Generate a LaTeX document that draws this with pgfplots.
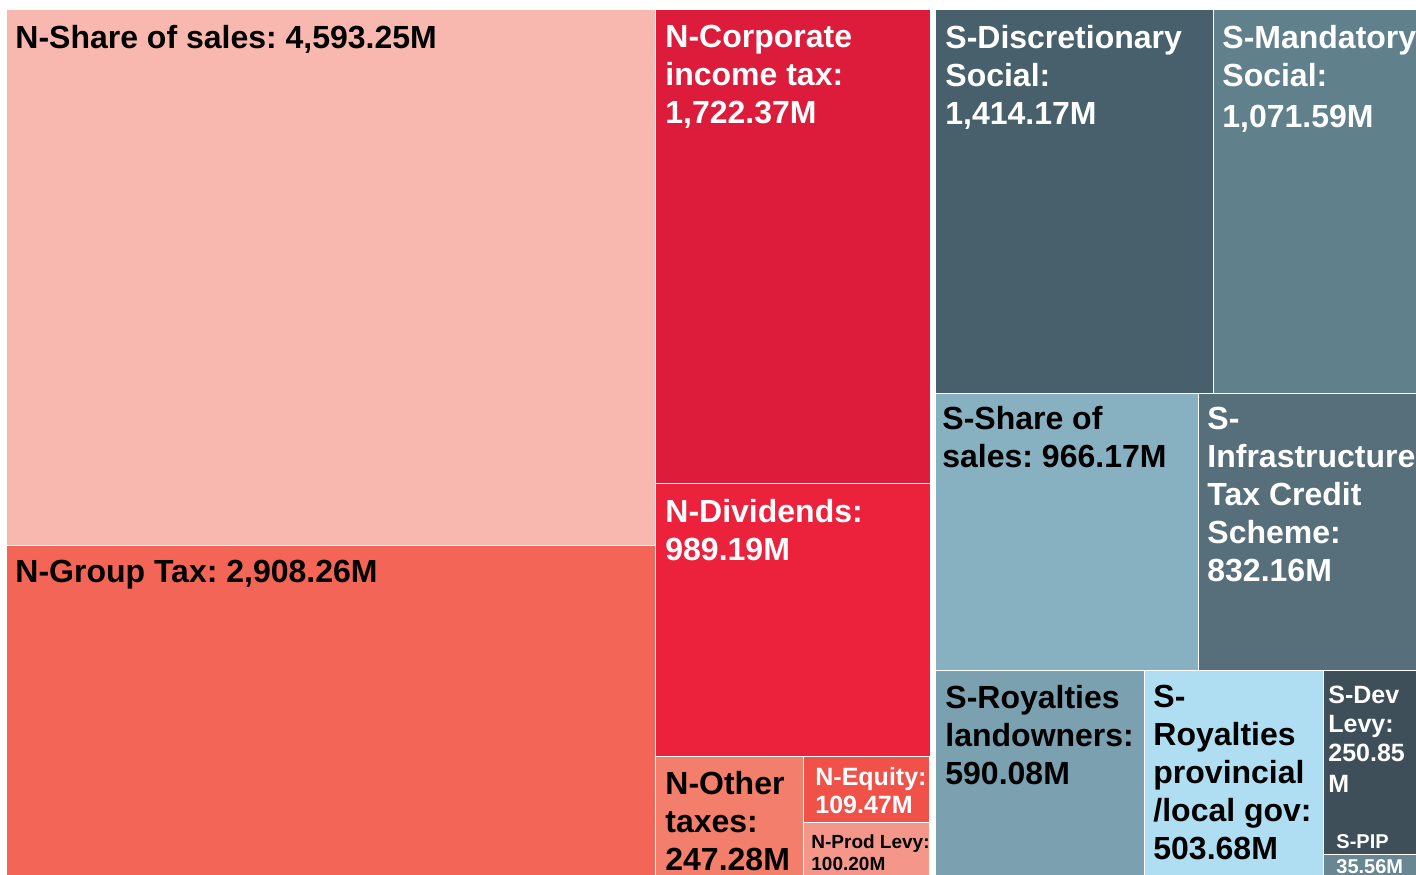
\documentclass[border=0pt]{standalone}
\usepackage{fontspec}
\setmainfont{Liberation Sans}
\usepackage{pgfplots}
\pgfplotsset{compat=1.18}
\frenchspacing
\definecolor{cA}{HTML}{F8B8B0}
\definecolor{cB}{HTML}{F26557}
\definecolor{cC}{HTML}{DD1B3A}
\definecolor{cD}{HTML}{EC223C}
\definecolor{cE}{HTML}{F37E6B}
\definecolor{cF}{HTML}{F0524A}
\definecolor{cG}{HTML}{F4968A}
\definecolor{sA}{HTML}{48606B}
\definecolor{sB}{HTML}{60808C}
\definecolor{sC}{HTML}{87B0C0}
\definecolor{sD}{HTML}{566F7B}
\definecolor{sE}{HTML}{7BA0B0}
\definecolor{sF}{HTML}{AFDEF2}
\definecolor{sG}{HTML}{3E4F59}
\definecolor{sH}{HTML}{698793}
\tikzset{
  lbl/.style={inner sep=0pt, anchor=north west, align=left, font=\fontsize{16bp}{19bp}\selectfont\bfseries\frenchspacing},
  tile/.style={draw=white, line width=0.5bp}
}
\begin{document}
\begin{tikzpicture}
\begin{axis}[name=ax, width=708bp, height=437.5bp, scale only axis,
  xmin=0, xmax=1416, ymin=0, ymax=875, y dir=reverse, hide axis, clip=false]
% N group
\addplot[tile, fill=cA] coordinates {(6,10) (655.5,10) (655.5,545) (6,545) (6,10)};
\addplot[tile, fill=cB] coordinates {(6,545) (655.5,545) (655.5,875) (6,875) (6,545)};
\addplot[tile, fill=cC] coordinates {(655.5,10) (930,10) (930,483.5) (655.5,483.5) (655.5,10)};
\addplot[tile, fill=cD] coordinates {(655.5,483.5) (930,483.5) (930,756) (655.5,756) (655.5,483.5)};
\addplot[tile, fill=cE] coordinates {(655.5,756) (803,756) (803,875) (655.5,875) (655.5,756)};
\addplot[tile, fill=cF] coordinates {(803,756) (929,756) (929,822) (803,822) (803,756)};
\addplot[tile, fill=cG] coordinates {(803,822) (929,822) (929,875) (803,875) (803,822)};
% S group
\addplot[tile, fill=sA] coordinates {(935,10) (1213.5,10) (1213.5,393) (935,393) (935,10)};
\addplot[tile, fill=sB] coordinates {(1213.5,10) (1416,10) (1416,393) (1213.5,393) (1213.5,10)};
\addplot[tile, fill=sC] coordinates {(935,393) (1198,393) (1198,670) (935,670) (935,393)};
\addplot[tile, fill=sD] coordinates {(1198,393) (1416,393) (1416,670) (1198,670) (1198,393)};
\addplot[tile, fill=sE] coordinates {(935,670) (1144.5,670) (1144.5,875) (935,875) (935,670)};
\addplot[tile, fill=sF] coordinates {(1144.5,670) (1323,670) (1323,875) (1144.5,875) (1144.5,670)};
\addplot[tile, fill=sG] coordinates {(1323,670) (1416,670) (1416,854.5) (1323,854.5) (1323,670)};
\addplot[tile, fill=sH] coordinates {(1323,854.5) (1416,854.5) (1416,875) (1323,875) (1323,854.5)};
% labels
\node[lbl, text=black] at (axis cs:15,25) {N-Share of sales: 4,593.25M};
\node[lbl, text=black] at (axis cs:15,560) {N-Group Tax: 2,908.26M};
\node[lbl, text=white] at (axis cs:665,25) {N-Corporate\\income tax:\\1,722.37M};
\node[lbl, text=white] at (axis cs:665,499) {N-Dividends:\\989.19M};
\node[lbl, text=black] at (axis cs:665,771) {N-Other\\taxes:\\247.28M};
\node[lbl, text=white, font=\fontsize{12.5bp}{14bp}\selectfont\bfseries\frenchspacing] at (axis cs:815,767) {N-Equity:\\109.47M};
\node[lbl, text=black, font=\fontsize{9.5bp}{11bp}\selectfont\bfseries\frenchspacing] at (axis cs:811,834) {N-Prod Levy:\\100.20M};
\node[lbl, text=white] at (axis cs:945,25) {S-Discretionary\\Social:\\1,414.17M};
\node[lbl, text=white] at (axis cs:1222,25) {S-Mandatory\\Social:\\[1.5bp]1,071.59M};
\node[lbl, text=black] at (axis cs:942,406) {S-Share of\\sales: 966.17M};
\node[lbl, text=white] at (axis cs:1207,407) {S-\\Infrastructure\\Tax Credit\\Scheme:\\832.16M};
\node[lbl, text=black] at (axis cs:945,685) {S-Royalties\\landowners:\\590.08M};
\node[lbl, text=black] at (axis cs:1153,685) {S-\\Royalties\\provincial\\/local gov:\\503.68M};
\node[lbl, text=white, font=\fontsize{12.5bp}{14.5bp}\selectfont\bfseries\frenchspacing] at (axis cs:1328,686) {S-Dev\\Levy:\\250.85\\[1bp]M};
\node[lbl, text=white, font=\fontsize{10bp}{12.5bp}\selectfont\bfseries\frenchspacing] at (axis cs:1336,834) {S-PIP\\35.56M};
\end{axis}
\pgfresetboundingbox
\path[use as bounding box] (ax.south west) rectangle (ax.north east);
\end{tikzpicture}
\end{document}
